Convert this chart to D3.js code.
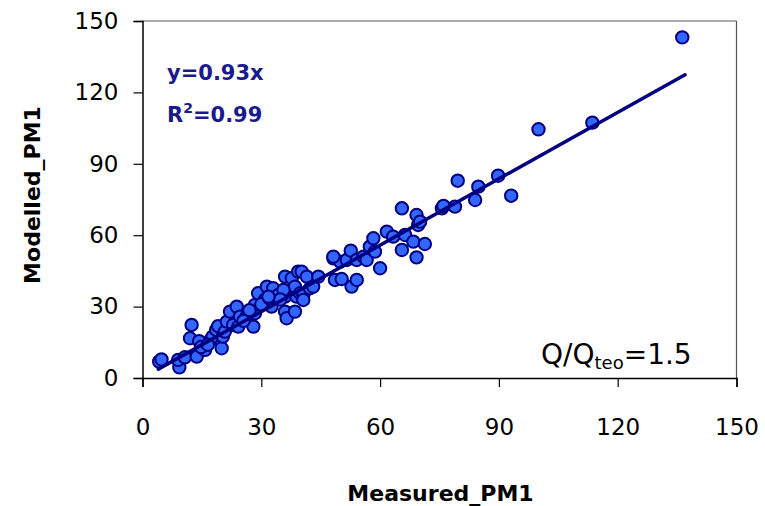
<!DOCTYPE html>
<html><head><meta charset="utf-8">
<script src="https://cdn.jsdelivr.net/npm/d3@7"></script>
<style>body{margin:0;background:#fff}</style>
</head><body>
<svg id="c" width="765" height="506"></svg>
<script>
const measured = [4.2,4.8,9.3,9.0,10.7,13.7,12.4,12.0,14.3,15.8,17.2,17.7,18.6,19.1,20.0,20.3,20.8,21.3,22.1,22.9,23.8,24.2,24.6,14.8,16.5,
26.3,28.0,28.4,28.4,29.2,30.9,31.4,32.6,33.0,34.3,36.0,36.4,36.0,36.0,37.7,38.5,38.9,38.5,39.3,40.2,39.8,40.6,40.6,41.5,42.3,43.1,44.4,35.6,30.0,27.0,25.5,32.0,34.8,31.8,
48.2,48.6,50.3,49.9,48.2,51.6,52.6,52.8,54.1,54.1,55.8,56.6,57.4,58.3,58.7,60.0,61.7,63.3,65.5,65.5,66.3,68.4,69.2,69.6,70.1,69.2,71.3,
75.6,76.0,78.9,79.6,84.0,84.8,89.8,93.1,100.0,113.6,136.3];
const modelled = [6.9,7.8,4.5,7.6,8.7,9.0,22.3,16.7,15.5,11.8,16.0,17.4,20.2,21.8,12.5,17.4,19.5,23.7,27.9,22.3,30.0,21.6,25.8,13.0,14.0,
25.8,21.6,27.2,30.7,35.6,32.8,38.4,30.0,37.7,34.9,27.9,25.1,34.2,42.6,41.9,27.9,34.2,38.4,44.7,44.7,35.6,34.9,32.8,42.6,37.7,38.4,42.6,37.0,31.0,28.5,24.0,33.5,33.0,34.2,
50.3,41.2,41.6,48.9,51.0,49.6,53.5,38.4,41.2,49.6,51.0,49.6,55.2,58.7,53.1,46.1,61.5,59.4,53.8,71.3,60.1,57.3,68.5,64.3,65.7,50.7,56.3,
71.3,72.3,72.0,82.9,74.8,80.4,85.0,76.6,104.5,107.3,143.1];
const xTicks = [0,30,60,90,120,150];
const yTicks = [0,30,60,90,120,150];
const slope = 0.93;
const fitRange = [4,137];
const xTitle = "Measured_PM1";
const yTitle = "Modelled_PM1";

const svg = d3.select("#c");
const L=142.5, R=736.5, T=21, B=378;
const x = d3.scaleLinear().domain([0,150]).range([L,R]);
const y = d3.scaleLinear().domain([0,150]).range([B,T]);
const font = "DejaVu Sans, sans-serif";

svg.append("rect").attr("width",765).attr("height",506).attr("fill","#fff");
// frame
svg.append("line").attr("x1",L).attr("x2",R).attr("y1",T).attr("y2",T).attr("stroke","#8c8c8c").attr("stroke-width",1.5);
svg.append("line").attr("x1",R).attr("x2",R).attr("y1",T).attr("y2",B).attr("stroke","#555").attr("stroke-width",1.2);

const xa = svg.append("g").attr("transform",`translate(0,${B})`)
  .call(d3.axisBottom(x).tickValues(xTicks).tickSize(9).tickPadding(32).tickFormat(d3.format("d")));
const ya = svg.append("g").attr("transform",`translate(${L},0)`)
  .call(d3.axisLeft(y).tickValues(yTicks).tickSize(9).tickPadding(15).tickFormat(d3.format("d")));
[xa,ya].forEach(a=>{
  a.select(".domain").attr("stroke","#000").attr("stroke-width",1.5);
  a.selectAll(".tick line").attr("stroke","#000").attr("stroke-width",1.2);
  a.selectAll("text").attr("font-family",font).attr("font-size",23).attr("fill","#000");
});

// points
const pts = measured.map((m,i)=>[m,modelled[i]]);
svg.append("g").selectAll("circle").data(pts).join("circle")
  .attr("cx",d=>x(d[0])).attr("cy",d=>y(d[1])).attr("r",6.2)
  .attr("fill","#3366ff").attr("stroke","#000080").attr("stroke-width",2);

// fit line
svg.append("line")
  .attr("x1",x(fitRange[0])).attr("y1",y(slope*fitRange[0]))
  .attr("x2",x(fitRange[1])).attr("y2",y(slope*fitRange[1]))
  .attr("stroke","#000080").attr("stroke-width",3.5).attr("stroke-linecap","round");

// equation text
svg.append("text").attr("x",167).attr("y",80).attr("font-family",font).attr("font-weight","bold")
  .attr("font-size",21).attr("fill","#1a1a8c").text("y=0.93x");
const r2 = svg.append("text").attr("x",167).attr("y",122).attr("font-family",font).attr("font-weight","bold")
  .attr("font-size",21).attr("fill","#1a1a8c");
r2.append("tspan").text("R");
r2.append("tspan").attr("font-size",14).attr("dy",-9).text("2");
r2.append("tspan").attr("dy",9).text("=0.99");

// Q/Qteo
const q = svg.append("text").attr("x",541).attr("y",364).attr("font-family",font).attr("font-size",28).attr("fill","#000");
q.append("tspan").text("Q/Q");
q.append("tspan").attr("font-size",18).attr("dy",5).text("teo");
q.append("tspan").attr("dy",-5).text("=1.5");

// axis titles
svg.append("text").attr("x",(L+R)/2 + 1).attr("y",501).attr("text-anchor","middle")
  .attr("font-family",font).attr("font-weight","bold").attr("font-size",22).text(xTitle);
svg.append("text").attr("transform","translate(40,195) rotate(-90)").attr("text-anchor","middle")
  .attr("font-family",font).attr("font-weight","bold").attr("font-size",22).text(yTitle);
</script>
</body></html>
